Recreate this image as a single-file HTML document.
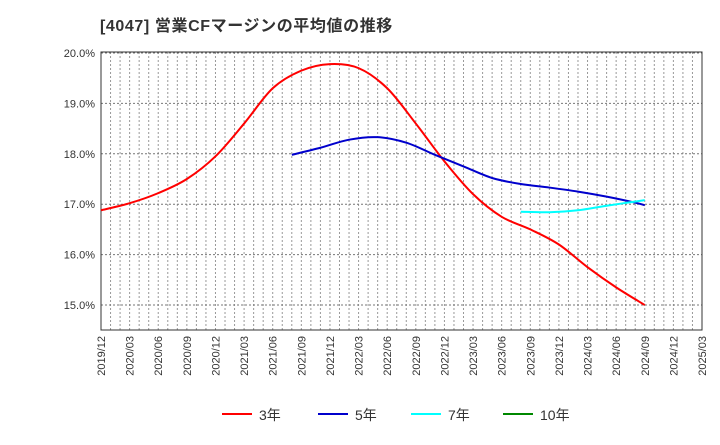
<!DOCTYPE html>
<html><head><meta charset="utf-8"><style>
body{margin:0;background:#fff;}
svg text{font-family:"Liberation Sans","Noto Sans CJK JP",sans-serif;}
</style></head><body>
<svg id="c" width="720" height="440" xmlns="http://www.w3.org/2000/svg">
<text x="100" y="31" font-size="16" font-weight="bold" fill="#333" letter-spacing="0.6">[4047]  営業CFマージンの平均値の推移</text>
</svg>
<script>
const xLabels=["2019/12","2020/03","2020/06","2020/09","2020/12","2021/03","2021/06","2021/09","2021/12","2022/03","2022/06","2022/09","2022/12","2023/03","2023/06","2023/09","2023/12","2024/03","2024/06","2024/09","2024/12","2025/03"];
const yTicks=[15,16,17,18,19,20];
const s3Months=[0,3,6,9,12,15,18,21,24,27,30,33,36,39,42,45,48,51,54,57];
const s3Values=[16.88,17.02,17.22,17.5,17.95,18.6,19.3,19.65,19.78,19.7,19.3,18.6,17.85,17.2,16.75,16.5,16.2,15.75,15.35,15.0];
const s5Months=[20,23,26,29,32,35,38,41,44,47,50,53,56,57];
const s5Values=[17.98,18.12,18.28,18.33,18.22,17.98,17.75,17.52,17.4,17.33,17.25,17.15,17.03,16.98];
const s7Months=[44,47,50,53,57];
const s7Values=[16.85,16.84,16.88,16.97,17.08];
const NS="http://www.w3.org/2000/svg";
const svg=document.getElementById('c');
const L=101,R=702,T=52,B=330;
const X=m=>L+(R-L)*m/63;
const Y=v=>53+(20-v)*50.4;
function mk(t,a){const e=document.createElementNS(NS,t);for(const k in a)e.setAttribute(k,a[k]);svg.appendChild(e);return e;}
const bg=mk('rect',{x:L,y:T,width:R-L,height:B-T,fill:'#fff'});


for(let m=1;m<63;m++){const g=mk('line',{x1:X(m),x2:X(m),y1:T,y2:B,stroke:'#999','stroke-dasharray':'2,2','stroke-width':1});

}
yTicks.forEach(v=>{const g=mk('line',{x1:L,x2:R,y1:Y(v),y2:Y(v),stroke:'#777','stroke-dasharray':'2,2'});


const t=mk('text',{x:L-6,y:Y(v)+4,'text-anchor':'end','font-size':11,fill:'#333'});t.textContent=v.toFixed(1)+'%';

});
const fr=mk('rect',{x:L,y:T,width:R-L,height:B-T,fill:'none',stroke:'#333'});


xLabels.forEach((l,i)=>{const x=X(i*3);const t=mk('text',{x:x+4,y:B+6,'text-anchor':'end','font-size':11,fill:'#333',transform:`rotate(-90 ${x+4} ${B+6})`});t.textContent=l;

});
function path(ms,vs){const p=ms.map((m,i)=>[X(m),Y(vs[i])]);let d=`M${p[0][0]},${p[0][1]}`;
for(let i=0;i<p.length-1;i++){const p0=p[i-1]||p[i],p1=p[i],p2=p[i+1],p3=p[i+2]||p2;
d+=` C${p1[0]+(p2[0]-p0[0])/6},${p1[1]+(p2[1]-p0[1])/6} ${p2[0]-(p3[0]-p1[0])/6},${p2[1]-(p3[1]-p1[1])/6} ${p2[0]},${p2[1]}`;}return d;}
const l3=mk('path',{d:path(s3Months,s3Values),fill:'none',stroke:'#f00','stroke-width':2});


const l5=mk('path',{d:path(s5Months,s5Values),fill:'none',stroke:'#00c','stroke-width':2});


const l7=mk('path',{d:path(s7Months,s7Values),fill:'none',stroke:'#0ff','stroke-width':2});


const leg=[["3年","#f00",222],["5年","#00c",318],["7年","#0ff",411],["10年","#080",503]];
leg.forEach(([n,c,x])=>{const ln=mk('line',{x1:x,x2:x+30,y1:414,y2:414,stroke:c,'stroke-width':2});


const t=mk('text',{x:x+37,y:420,'font-size':14,fill:'#333'});t.textContent=n;

});
</script>
</body></html>
